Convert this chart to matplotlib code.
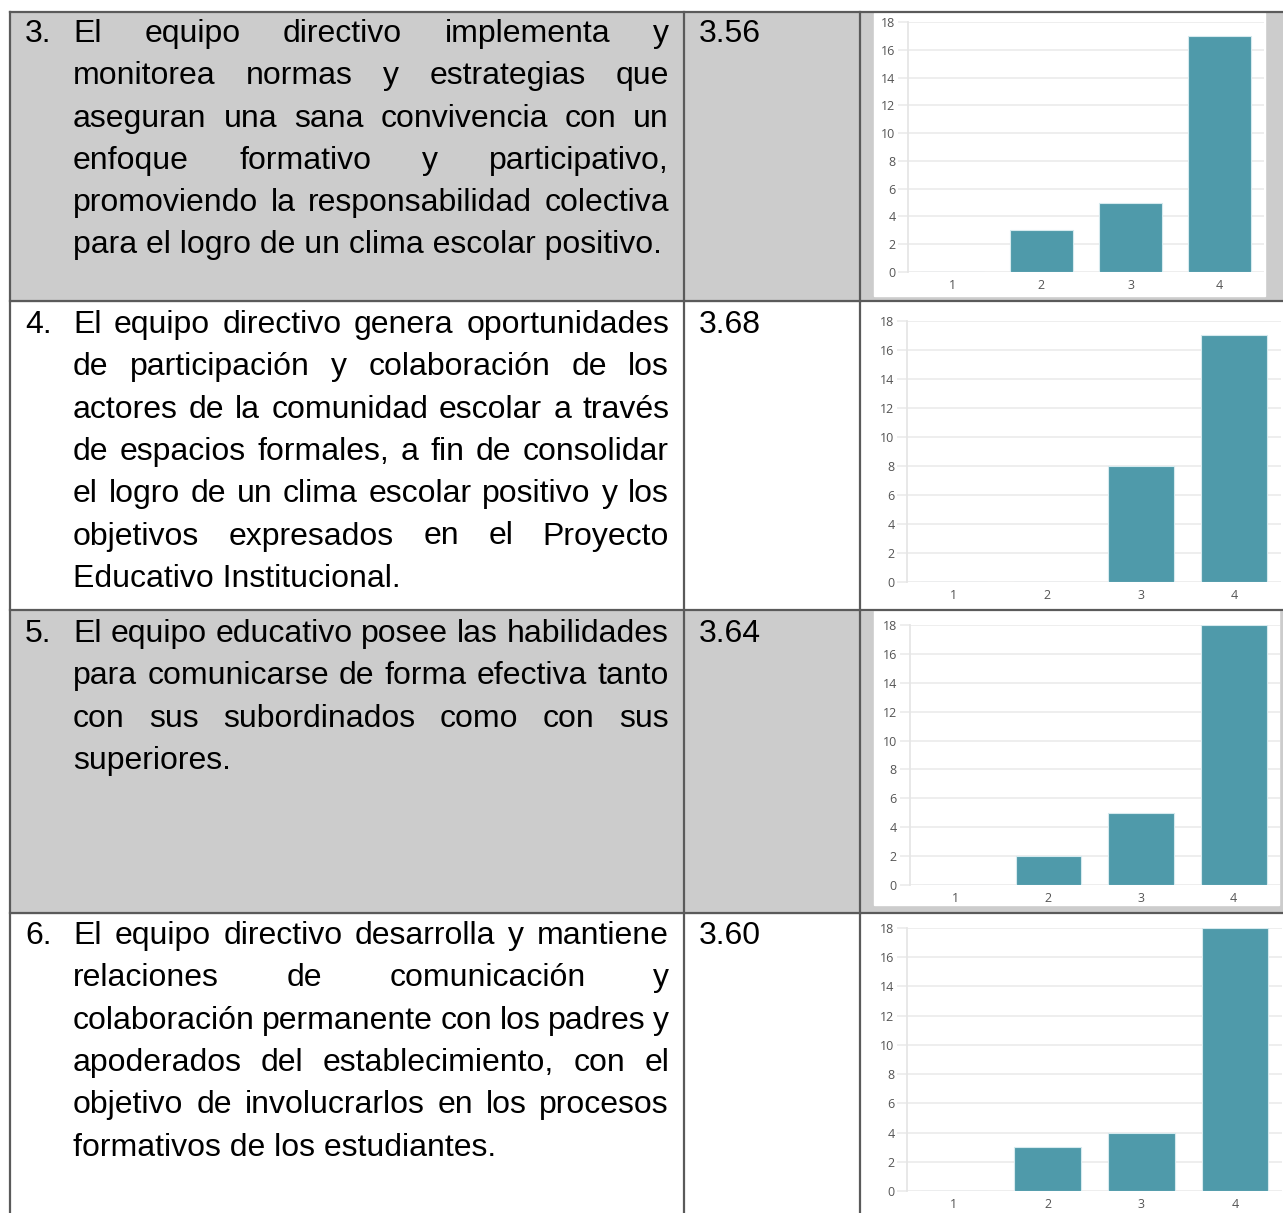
import matplotlib
matplotlib.use("Agg")
from matplotlib import pyplot as plt
from matplotlib.patches import Rectangle

# table content
numbers = ["3.", "4.", "5.", "6."]
scores = ["3.56", "3.68", "3.64", "3.60"]
statements = [
    ["El equipo directivo implementa y",
     "monitorea normas y estrategias que",
     "aseguran una sana convivencia con un",
     "enfoque formativo y participativo,",
     "promoviendo la responsabilidad colectiva",
     "para el logro de un clima escolar positivo."],
    ["El equipo directivo genera oportunidades",
     "de participación y colaboración de los",
     "actores de la comunidad escolar a través",
     "de espacios formales, a fin de consolidar",
     "el logro de un clima escolar positivo y los",
     "objetivos expresados en el Proyecto",
     "Educativo Institucional."],
    ["El equipo educativo posee las habilidades",
     "para comunicarse de forma efectiva tanto",
     "con sus subordinados como con sus",
     "superiores."],
    ["El equipo directivo desarrolla y mantiene",
     "relaciones de comunicación y",
     "colaboración permanente con los padres y",
     "apoderados del establecimiento, con el",
     "objetivo de involucrarlos en los procesos",
     "formativos de los estudiantes."],
]
# chart data: answers 1..4
categories = [1, 2, 3, 4]
counts = [
    [0, 3, 5, 17],
    [0, 0, 8, 17],
    [0, 2, 5, 18],
    [0, 3, 4, 18],
]

W, H = 1283, 1213
GRAY = "#cccccc"
BORDER = "#5a5a5a"
BAR = "#4f9aaa"
FONT = "Liberation Sans"
FS = 23

# row layout in pixels
row_tops = [12, 301, 610, 913]
row_bottoms = [301, 610, 913, 1213]
row_gray = [True, False, True, False]
first_baseline = [42, 333, 642, 944]
line_step = 42.3
# white chart boxes (x0, y0, x1, y1) and axes boxes
chart_boxes = [(874, 13, 1265, 296), (862, 302, 1283, 610),
               (874, 611, 1279, 905), (862, 914, 1283, 1213)]
axes_boxes = [(908, 22, 1264, 272), (907, 321, 1281, 582),
              (909.5, 625, 1280, 885), (907, 928, 1282, 1191)]

fig = plt.figure(figsize=(W / 100, H / 100), dpi=100)
bg = fig.add_axes([0, 0, 1, 1])
bg.set_xlim(0, W)
bg.set_ylim(H, 0)
bg.axis("off")
renderer = fig.canvas.get_renderer()


def text_width(s):
    t = bg.text(0, 0, s, fontsize=FS, family=FONT)
    w = t.get_window_extent(renderer).width
    t.remove()
    return w


# word-by-word placement to get justified lines like the original document
def justified(lines, x0, x1, y0):
    for i, line in enumerate(lines):
        y = y0 + i * line_step
        words = line.split()
        if i == len(lines) - 1 or len(words) == 1:
            bg.text(x0, y, line, fontsize=FS, family=FONT, va="baseline")
            continue
        widths = [text_width(w) for w in words]
        gap = (x1 - x0 - sum(widths)) / (len(words) - 1)
        x = x0
        for w, wd in zip(words, widths):
            bg.text(x, y, w, fontsize=FS, family=FONT, va="baseline")
            x += wd + gap


for r in range(4):
    top, bot = row_tops[r], row_bottoms[r]
    if row_gray[r]:
        bg.add_patch(Rectangle((10, top), W - 10, bot - top, color=GRAY, zorder=0))
    cx0, cy0, cx1, cy1 = chart_boxes[r]
    bg.add_patch(Rectangle((cx0, cy0), cx1 - cx0, cy1 - cy0, color="white", zorder=0.5))
    bg.text(25, first_baseline[r], numbers[r], fontsize=FS, family=FONT, va="baseline")
    bg.text(699, first_baseline[r], scores[r], fontsize=FS, family=FONT, va="baseline")
    justified(statements[r], 73, 669, first_baseline[r])

# grid lines of the table
for y in row_tops:
    bg.plot([10, W], [y, y], color=BORDER, lw=1.6)
for x in [10, 684, 860]:
    bg.plot([x, x], [12, H], color=BORDER, lw=1.6)

# bar charts
for r in range(4):
    x0, y0, x1, y1 = axes_boxes[r]
    ax = fig.add_axes([x0 / W, 1 - y1 / H, (x1 - x0) / W, (y1 - y0) / H])
    ax.set_facecolor("none")
    ax.bar(categories, counts[r], width=0.71, color=BAR,
           edgecolor="#d6eaee", linewidth=0.8, zorder=3)
    ax.set_xlim(0.5, 4.5)
    ax.set_ylim(0, 18)
    ax.set_yticks(range(0, 19, 2))
    ax.set_xticks(categories)
    ax.grid(axis="y", color="#ebebeb", lw=1.2, zorder=0)
    for s in ["top", "right", "bottom"]:
        ax.spines[s].set_visible(False)
    ax.spines["left"].set_color("#e6e6e6")
    ax.spines["left"].set_linewidth(1.3)
    ax.tick_params(axis="y", length=7, color="#ebebeb", width=1.2, pad=2,
                   labelsize=9, labelcolor="#555555")
    ax.tick_params(axis="x", length=0, pad=5, labelsize=9, labelcolor="#555555")
    for lab in ax.get_xticklabels() + ax.get_yticklabels():
        lab.set_family("Open Sans")

fig.savefig("out.png", dpi=100)
